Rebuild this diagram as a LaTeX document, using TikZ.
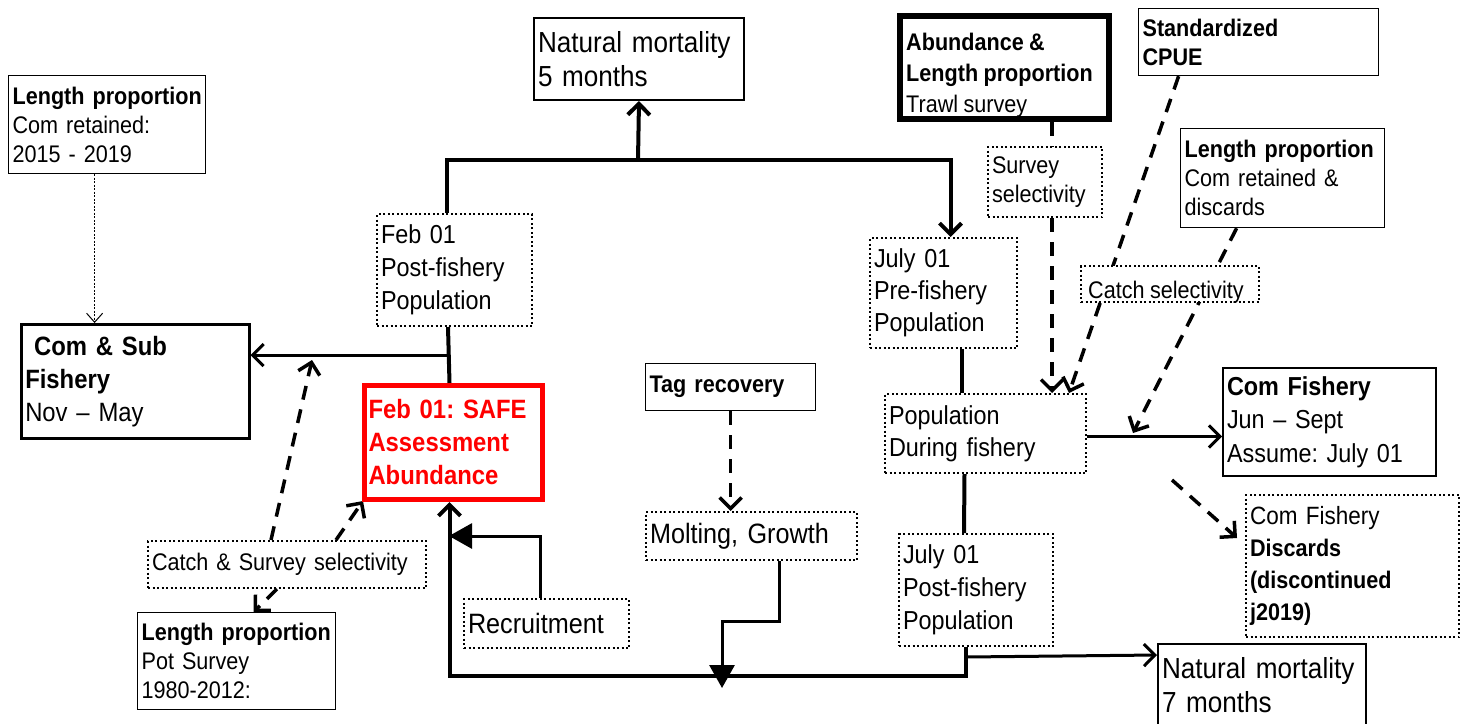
\documentclass[tikz,border=0pt]{standalone}
\usepackage{fontspec}
\setmainfont{Liberation Sans}[FakeStretch=0.9, WordSpace=0.9]
\usetikzlibrary{arrows.meta,calc}
\pgfdeclarelayer{bg}
\pgfsetlayers{bg,main}
\newcommand{\myfs}[2]{\fontsize{#1}{#2}\selectfont}
\hyphenpenalty=10000
\exhyphenpenalty=10000
\frenchspacing
\begin{document}
\begin{tikzpicture}[x=1pt,y=-1pt,
  box/.style={draw, line width=1.8pt, fill=white, anchor=north west, align=left, inner xsep=4pt, inner ysep=0pt},
  thinbox/.style={box, line width=1.2pt},
  dotbox/.style={box, line width=2pt, dash pattern=on 2pt off 2.5pt},
  mainline/.style={line width=4pt, line join=miter},
  midline/.style={line width=3pt, line join=miter},
  dashline/.style={line width=3.5pt, dash pattern=on 14pt off 10pt},
  openhead/.tip={Straight Barb[length=11pt,width=22pt]},
  fillhead/.tip={Triangle[length=23pt,width=25pt]},
  plain/.style={anchor=north west, inner sep=0pt, align=left}
]
\useasboundingbox (0,0) rectangle (1464,723);

% ---------- boxes ----------
\node[thinbox, minimum width=197pt, minimum height=98pt, text width=189pt, font={\myfs{24}{29}}] (lpcom) at (8,75)
  {\textbf{Length~proportion}\\Com retained:\\2015 - 2019};
\node[box, line width=2.5pt, minimum width=228pt, minimum height=114pt, text width=220pt, font={\myfs{26.5}{33}}] (comsub) at (20,323)
  {\textbf{\ Com \& Sub}\\\textbf{Fishery}\\Nov \textendash{} May};
\node[box, line width=2pt, minimum width=210pt, minimum height=82pt, text width=202pt, font={\myfs{29}{34}}] (nm5) at (533,17)
  {Natural mortality\\5 months};
\node[dotbox, minimum width=155pt, minimum height=112pt, text width=147pt, font={\myfs{26}{33}}] (feb01post) at (376,213)
  {Feb 01\\Post-fishery\\Population};
\node[box, draw=red, line width=5pt, minimum width=178pt, minimum height=114pt, text width=170pt, text=red, font={\myfs{26.5}{33}\bfseries}] (safe) at (362,383)
  {Feb 01: SAFE\\Assessment\\Abundance};
\node[thinbox, minimum width=170pt, minimum height=47pt, text width=162pt, font={\myfs{24}{29}\bfseries}] (tag) at (645,363)
  {Tag recovery};
\node[dotbox, minimum width=211pt, minimum height=48pt, text width=203pt, font={\myfs{28}{33}}] (molt) at (645,511)
  {Molting, Growth};
\node[dotbox, minimum width=165pt, minimum height=49pt, text width=157pt, font={\myfs{28}{33}}] (recruit) at (463,598)
  {Recruitment};
\node[dotbox, minimum width=278pt, minimum height=47pt, text width=270pt, font={\myfs{24}{29}}] (catchsurv) at (147,540)
  {Catch \& Survey selectivity};
\node[thinbox, minimum width=198pt, minimum height=97pt, text width=190pt, font={\myfs{24}{29}}] (lppot) at (137,612)
  {\textbf{Length~proportion}\\Pot Survey\\1980-2012:};

% Abundance box (text clipped by border)
\node[box, line width=6pt, minimum width=209pt, minimum height=103pt] (abund) at (897,13) {};
\begin{scope}
  \clip ([xshift=3pt,yshift=-3pt]abund.north west) rectangle ([xshift=-3pt,yshift=3pt]abund.south east);
  \node[plain, font={\myfs{24}{31}}] (abundtxt) at (906,33)
    {\textbf{Abundance \&}\\\textbf{Length proportion}\\Trawl survey};
\end{scope}

\node[thinbox, minimum width=240pt, minimum height=67pt, text width=232pt, font={\myfs{24}{29}\bfseries}] (cpue) at (1138,8)
  {Standardized\\CPUE};
\node[dotbox, minimum width=114pt, minimum height=70pt, text width=106pt, font={\myfs{24}{29}}] (survsel) at (987,146)
  {Survey\\selectivity};
\node[thinbox, minimum width=204pt, minimum height=99pt, text width=196pt, font={\myfs{24}{29}}] (lpcomdisc) at (1180,128)
  {\textbf{Length~proportion}\\Com retained \&\\discards};
\node[dotbox, minimum width=147pt, minimum height=110pt, text width=139pt, font={\myfs{26}{32}}] (julypre) at (869,237)
  {July 01\\Pre-fishery\\Population};

% Catch selectivity (text clipped)
\node[dotbox, minimum width=178pt, minimum height=36pt] (catchsel) at (1080,265) {};
\begin{scope}
  \clip ([xshift=1pt,yshift=-1pt]catchsel.north west) rectangle ([xshift=-1pt,yshift=1pt]catchsel.south east);
  \node[plain, font={\myfs{24}{29}}] (catchseltxt) at (1088,281) {Catch selectivity};
\end{scope}

\node[dotbox, minimum width=201pt, minimum height=79pt, text width=193pt, font={\myfs{26}{32}}] (popdur) at (884,393)
  {Population\\During fishery};
\node[box, line width=2pt, minimum width=213pt, minimum height=108pt, text width=205pt, font={\myfs{26}{33.5}}] (comfish) at (1222,367)
  {\textbf{Com Fishery}\\Jun \textendash{} Sept\\Assume: July 01};
\node[dotbox, minimum width=213pt, minimum height=142pt, text width=205pt, font={\myfs{25}{32}}] (discards) at (1245,494)
  {Com Fishery\\\myfs{24}{32}\textbf{Discards}\\\textbf{(discontinued}\\\textbf{j2019)}};
\node[dotbox, minimum width=154pt, minimum height=112pt, text width=146pt, font={\myfs{26}{33}}] (julypost) at (898,533)
  {July 01\\Post-fishery\\Population};
\node[box, line width=2pt, minimum width=208pt, minimum height=83pt, text width=200pt, font={\myfs{29}{34}}] (nm7) at (1157,643)
  {Natural mortality\\7 months};

% ---------- connectors ----------
\begin{pgfonlayer}{bg}
  \coordinate (topbar) at (638,160);
  \draw[mainline, -openhead] ([xshift=-8pt]feb01post.north) |- (topbar) -| ([xshift=7pt]julypre.north);
  \draw[mainline, -openhead] (topbar) -- (nm5.south);

  \draw[mainline] ([xshift=-6.5pt]feb01post.south) -- ([xshift=-4pt]safe.north);
  \coordinate (branch) at (447,355);
  \draw[midline, -openhead] (branch) -- (branch -| comsub.east);

  \draw[line width=1pt, dash pattern=on 2pt off 1.5pt, -{Straight Barb[length=9pt,width=16pt]}]
    ([xshift=-12.5pt]lpcom.south) -- ([xshift=-12.5pt]lpcom.south |- comsub.north);

  \coordinate (hit1) at (312,360);
  \draw[dashline, -openhead] ([xshift=-16pt]catchsurv.north) -- (hit1);
  \draw[dashline, -openhead] ([xshift=49pt]catchsurv.north) -- ([xshift=1pt,yshift=1pt]safe.south west);
  \draw[dashline, -openhead] ([xshift=-10pt]catchsurv.south) -- ([xshift=17pt]lppot.north);

  \coordinate (botbar) at (722,676);
  \draw[mainline, -openhead] ([xshift=-10pt]julypost.south) |- (botbar) -| ([xshift=-4pt]safe.south);
  \draw[midline, -openhead] ([xshift=-10pt,yshift=-10pt]julypost.south) -- ([yshift=-12pt]nm7.north west);

  \coordinate (recin) at (449,536);
  \draw[midline, -fillhead] ([xshift=-6pt]recruit.north) |- (recin);

  \coordinate (moltbend) at (722,621);
  \coordinate (moltin) at (722,688);
  \draw[midline, -fillhead] ([xshift=27.5pt]molt.south) |- (moltbend) -- (moltin);

  \draw[dashline, -openhead] (tag.south) -- (tag.south |- molt.north);

  \draw[mainline] ([xshift=18pt]julypre.south) -- ([xshift=-24pt]popdur.north);
  \draw[mainline] ([xshift=-21pt]popdur.south) -- ([xshift=-12pt]julypost.north);

  \draw[midline, -openhead] ([yshift=-3pt]popdur.east) -- ([yshift=-3pt]popdur.east -| comfish.west);

  \coordinate (dstart) at (1172,480);
  \draw[dashline, -openhead] (dstart) -- ([xshift=-8pt,yshift=-44pt]discards.north west);

  \draw[dashline, -openhead] ([xshift=47.5pt]abund.south) -- ([xshift=47.5pt]abund.south |- popdur.north);
  \draw[dashline, -openhead] ([xshift=-80pt]cpue.south) -- ([xshift=83.5pt]popdur.north);
  \coordinate (hit2) at (1133,433);
  \draw[dashline, -openhead] ([xshift=-46pt]lpcomdisc.south) -- (hit2);
\end{pgfonlayer}
\end{tikzpicture}
\end{document}
